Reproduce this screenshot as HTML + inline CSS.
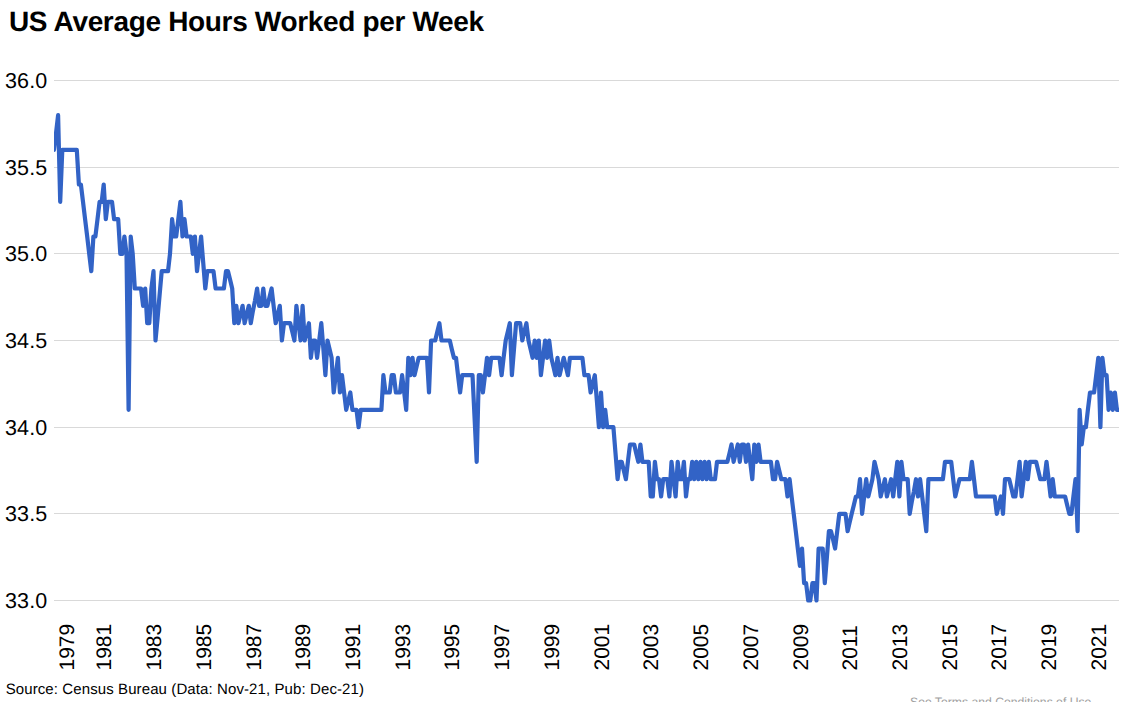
<!DOCTYPE html>
<html><head><meta charset="utf-8">
<style>
html,body{margin:0;padding:0;background:#fff;width:1133px;height:702px;overflow:hidden}
svg{display:block}
text{font-family:"Liberation Sans",sans-serif;fill:#000;text-rendering:geometricPrecision}
.t{font-weight:bold;font-size:28px;letter-spacing:-0.33px}
.yl{font-size:21.5px;letter-spacing:0.1px}
.xl{font-size:21px}
.src{font-size:15px;fill:#000;letter-spacing:0.1px}
.tc{font-size:12.2px;fill:#a0a0a0}
</style></head><body>
<svg width="1133" height="702" viewBox="0 0 1133 702">
<defs><clipPath id="pc"><rect x="54" y="0" width="1065" height="702"/></clipPath></defs>
<rect width="1133" height="702" fill="#fff"/>
<text x="8.9" y="31.3" class="t">US Average Hours Worked per Week</text>
<rect x="54" y="80" width="1065" height="1" fill="#d9d9d9"/>
<text x="47.3" y="80.5" class="yl" text-anchor="end" dominant-baseline="central">36.0</text>
<rect x="54" y="167" width="1065" height="1" fill="#d9d9d9"/>
<text x="47.3" y="167.5" class="yl" text-anchor="end" dominant-baseline="central">35.5</text>
<rect x="54" y="253" width="1065" height="1" fill="#d9d9d9"/>
<text x="47.3" y="253.5" class="yl" text-anchor="end" dominant-baseline="central">35.0</text>
<rect x="54" y="340" width="1065" height="1" fill="#d9d9d9"/>
<text x="47.3" y="340.5" class="yl" text-anchor="end" dominant-baseline="central">34.5</text>
<rect x="54" y="427" width="1065" height="1" fill="#d9d9d9"/>
<text x="47.3" y="427.5" class="yl" text-anchor="end" dominant-baseline="central">34.0</text>
<rect x="54" y="513" width="1065" height="1" fill="#d9d9d9"/>
<text x="47.3" y="513.5" class="yl" text-anchor="end" dominant-baseline="central">33.5</text>
<rect x="54" y="600" width="1065" height="1" fill="#d9d9d9"/>
<text x="47.3" y="600.5" class="yl" text-anchor="end" dominant-baseline="central">33.0</text>

<polyline points="54.0,149.8 56.1,132.5 58.1,115.2 60.2,201.8 62.3,149.8 64.4,149.8 66.4,149.8 68.5,149.8 70.6,149.8 72.6,149.8 74.7,149.8 76.8,149.8 78.9,184.5 80.9,184.5 83.0,201.8 85.1,219.2 87.2,236.5 89.2,253.8 91.3,271.2 93.4,236.5 95.4,236.5 97.5,219.2 99.6,201.8 101.7,201.8 103.7,184.5 105.8,219.2 107.9,201.8 109.9,201.8 112.0,201.8 114.1,219.2 116.2,219.2 118.2,219.2 120.3,253.8 122.4,253.8 124.4,236.5 126.5,253.8 128.6,409.8 130.7,236.5 132.7,253.8 134.8,288.5 136.9,288.5 139.0,288.5 141.0,288.5 143.1,305.8 145.2,288.5 147.2,323.2 149.3,323.2 151.4,288.5 153.5,271.2 155.5,340.5 157.6,318.0 159.7,293.7 161.7,271.2 163.8,271.2 165.9,271.2 168.0,271.2 170.0,253.8 172.1,219.2 174.2,236.5 176.2,236.5 178.3,219.2 180.4,201.8 182.5,236.5 184.5,219.2 186.6,236.5 188.7,236.5 190.8,236.5 192.8,253.8 194.9,236.5 197.0,271.2 199.0,253.8 201.1,236.5 203.2,262.5 205.3,288.5 207.3,271.2 209.4,271.2 211.5,271.2 213.5,271.2 215.6,288.5 217.7,288.5 219.8,288.5 221.8,288.5 223.9,288.5 226.0,271.2 228.0,271.2 230.1,279.8 232.2,288.5 234.3,323.2 236.3,305.8 238.4,323.2 240.5,314.5 242.6,305.8 244.6,323.2 246.7,314.5 248.8,305.8 250.8,323.2 252.9,311.0 255.0,300.6 257.1,288.5 259.1,305.8 261.2,305.8 263.3,288.5 265.3,305.8 267.4,305.8 269.5,297.2 271.6,288.5 273.6,305.8 275.7,323.2 277.8,314.5 279.8,305.8 281.9,340.5 284.0,323.2 286.1,323.2 288.1,323.2 290.2,323.2 292.3,331.8 294.4,340.5 296.4,305.8 298.5,323.2 300.6,340.5 302.6,305.8 304.7,340.5 306.8,331.8 308.9,323.2 310.9,357.8 313.0,340.5 315.1,340.5 317.1,357.8 319.2,340.5 321.3,323.2 323.4,349.2 325.4,375.2 327.5,340.5 329.6,349.2 331.6,357.8 333.7,392.5 335.8,375.2 337.9,357.8 339.9,392.5 342.0,375.2 344.1,392.5 346.2,409.8 348.2,401.2 350.3,392.5 352.4,409.8 354.4,409.8 356.5,409.8 358.6,427.2 360.7,409.8 362.7,409.8 364.8,409.8 366.9,409.8 368.9,409.8 371.0,409.8 373.1,409.8 375.2,409.8 377.2,409.8 379.3,409.8 381.4,409.8 383.4,375.2 385.5,392.5 387.6,392.5 389.7,392.5 391.7,375.2 393.8,375.2 395.9,392.5 398.0,392.5 400.0,392.5 402.1,375.2 404.2,392.5 406.2,409.8 408.3,357.8 410.4,375.2 412.5,357.8 414.5,375.2 416.6,366.5 418.7,357.8 420.7,357.8 422.8,357.8 424.9,357.8 427.0,357.8 429.0,392.5 431.1,340.5 433.2,340.5 435.2,340.5 437.3,331.8 439.4,323.2 441.5,340.5 443.5,340.5 445.6,340.5 447.7,340.5 449.8,340.5 451.8,349.2 453.9,357.8 456.0,357.8 458.0,375.2 460.1,392.5 462.2,375.2 464.3,375.2 466.3,375.2 468.4,375.2 470.5,375.2 472.5,375.2 474.6,418.5 476.7,461.8 478.8,375.2 480.8,375.2 482.9,392.5 485.0,375.2 487.0,357.8 489.1,375.2 491.2,357.8 493.3,357.8 495.3,357.8 497.4,357.8 499.5,357.8 501.6,375.2 503.6,357.8 505.7,340.5 507.8,331.8 509.8,323.2 511.9,375.2 514.0,349.2 516.1,323.2 518.1,323.2 520.2,323.2 522.3,340.5 524.3,331.8 526.4,323.2 528.5,340.5 530.6,349.2 532.6,357.8 534.7,340.5 536.8,357.8 538.8,340.5 540.9,375.2 543.0,357.8 545.1,340.5 547.1,357.8 549.2,340.5 551.3,357.8 553.4,366.5 555.4,375.2 557.5,357.8 559.6,375.2 561.6,366.5 563.7,357.8 565.8,366.5 567.9,375.2 569.9,357.8 572.0,357.8 574.1,357.8 576.1,357.8 578.2,357.8 580.3,357.8 582.4,357.8 584.4,375.2 586.5,375.2 588.6,375.2 590.6,392.5 592.7,383.8 594.8,375.2 596.9,401.2 598.9,427.2 601.0,392.5 603.1,427.2 605.2,409.8 607.2,427.2 609.3,427.2 611.4,427.2 613.4,427.2 615.5,453.2 617.6,479.2 619.7,461.8 621.7,461.8 623.8,470.5 625.9,479.2 627.9,461.8 630.0,444.5 632.1,444.5 634.2,444.5 636.2,453.2 638.3,461.8 640.4,444.5 642.4,461.8 644.5,461.8 646.6,461.8 648.7,461.8 650.7,496.5 652.8,496.5 654.9,461.8 657.0,479.2 659.0,479.2 661.1,496.5 663.2,479.2 665.2,479.2 667.3,479.2 669.4,496.5 671.5,461.8 673.5,479.2 675.6,496.5 677.7,461.8 679.7,479.2 681.8,479.2 683.9,461.8 686.0,496.5 688.0,479.2 690.1,479.2 692.2,461.8 694.2,479.2 696.3,461.8 698.4,479.2 700.5,461.8 702.5,479.2 704.6,461.8 706.7,479.2 708.8,461.8 710.8,479.2 712.9,479.2 715.0,479.2 717.0,461.8 719.1,461.8 721.2,461.8 723.3,461.8 725.3,461.8 727.4,461.8 729.5,453.2 731.5,444.5 733.6,461.8 735.7,453.2 737.8,444.5 739.8,461.8 741.9,444.5 744.0,444.5 746.0,461.8 748.1,444.5 750.2,461.8 752.3,479.2 754.3,444.5 756.4,461.8 758.5,444.5 760.6,461.8 762.6,461.8 764.7,461.8 766.8,461.8 768.8,461.8 770.9,461.8 773.0,479.2 775.1,479.2 777.1,461.8 779.2,470.5 781.3,479.2 783.3,479.2 785.4,479.2 787.5,496.5 789.6,479.2 791.6,496.5 793.7,513.8 795.8,531.2 797.8,548.5 799.9,565.8 802.0,548.5 804.1,583.2 806.1,583.2 808.2,600.5 810.3,600.5 812.4,583.2 814.4,583.2 816.5,600.5 818.6,548.5 820.6,548.5 822.7,548.5 824.8,583.2 826.9,557.2 828.9,531.2 831.0,531.2 833.1,539.8 835.1,548.5 837.2,531.2 839.3,513.8 841.4,513.8 843.4,513.8 845.5,513.8 847.6,531.2 849.6,522.5 851.7,513.8 853.8,505.2 855.9,496.5 857.9,496.5 860.0,479.2 862.1,513.8 864.2,496.5 866.2,479.2 868.3,496.5 870.4,487.8 872.4,479.2 874.5,461.8 876.6,470.5 878.7,479.2 880.7,496.5 882.8,487.8 884.9,479.2 886.9,496.5 889.0,487.8 891.1,479.2 893.2,496.5 895.2,479.2 897.3,461.8 899.4,496.5 901.4,461.8 903.5,479.2 905.6,479.2 907.7,479.2 909.7,513.8 911.8,501.7 913.9,491.3 916.0,479.2 918.0,496.5 920.1,479.2 922.2,496.5 924.2,513.8 926.3,531.2 928.4,479.2 930.5,479.2 932.5,479.2 934.6,479.2 936.7,479.2 938.7,479.2 940.8,479.2 942.9,479.2 945.0,461.8 947.0,461.8 949.1,461.8 951.2,461.8 953.2,479.2 955.3,496.5 957.4,487.8 959.5,479.2 961.5,479.2 963.6,479.2 965.7,479.2 967.8,479.2 969.8,479.2 971.9,461.8 974.0,479.2 976.0,496.5 978.1,496.5 980.2,496.5 982.3,496.5 984.3,496.5 986.4,496.5 988.5,496.5 990.5,496.5 992.6,496.5 994.7,496.5 996.8,513.8 998.8,505.2 1000.9,496.5 1003.0,513.8 1005.0,479.2 1007.1,479.2 1009.2,479.2 1011.3,487.8 1013.3,496.5 1015.4,496.5 1017.5,479.2 1019.6,461.8 1021.6,496.5 1023.7,479.2 1025.8,461.8 1027.8,479.2 1029.9,461.8 1032.0,461.8 1034.1,461.8 1036.1,461.8 1038.2,470.5 1040.3,479.2 1042.3,479.2 1044.4,479.2 1046.5,461.8 1048.6,479.2 1050.6,496.5 1052.7,479.2 1054.8,496.5 1056.8,496.5 1058.9,496.5 1061.0,496.5 1063.1,496.5 1065.1,496.5 1067.2,505.2 1069.3,513.8 1071.4,513.8 1073.4,496.5 1075.5,479.2 1077.6,531.2 1079.6,409.8 1081.7,444.5 1083.8,427.2 1085.9,427.2 1087.9,409.8 1090.0,392.5 1092.1,392.5 1094.1,392.5 1096.2,375.2 1098.3,357.8 1100.4,427.2 1102.4,357.8 1104.5,375.2 1106.6,375.2 1108.6,409.8 1110.7,392.5 1112.8,409.8 1114.9,392.5 1116.9,409.8 1119.0,409.8" fill="none" stroke="#3263c6" stroke-width="4.2" stroke-linejoin="round" stroke-linecap="round" clip-path="url(#pc)"/>
<text transform="translate(74.1,670.5) rotate(-90)" class="xl">1979</text>
<text transform="translate(111.3,670.5) rotate(-90)" class="xl">1981</text>
<text transform="translate(161.0,670.5) rotate(-90)" class="xl">1983</text>
<text transform="translate(210.7,670.5) rotate(-90)" class="xl">1985</text>
<text transform="translate(260.5,670.5) rotate(-90)" class="xl">1987</text>
<text transform="translate(310.2,670.5) rotate(-90)" class="xl">1989</text>
<text transform="translate(359.9,670.5) rotate(-90)" class="xl">1991</text>
<text transform="translate(409.7,670.5) rotate(-90)" class="xl">1993</text>
<text transform="translate(459.4,670.5) rotate(-90)" class="xl">1995</text>
<text transform="translate(509.1,670.5) rotate(-90)" class="xl">1997</text>
<text transform="translate(558.8,670.5) rotate(-90)" class="xl">1999</text>
<text transform="translate(608.6,670.5) rotate(-90)" class="xl">2001</text>
<text transform="translate(658.3,670.5) rotate(-90)" class="xl">2003</text>
<text transform="translate(708.0,670.5) rotate(-90)" class="xl">2005</text>
<text transform="translate(757.8,670.5) rotate(-90)" class="xl">2007</text>
<text transform="translate(807.5,670.5) rotate(-90)" class="xl">2009</text>
<text transform="translate(857.2,670.5) rotate(-90)" class="xl">2011</text>
<text transform="translate(906.9,670.5) rotate(-90)" class="xl">2013</text>
<text transform="translate(956.7,670.5) rotate(-90)" class="xl">2015</text>
<text transform="translate(1006.4,670.5) rotate(-90)" class="xl">2017</text>
<text transform="translate(1056.1,670.5) rotate(-90)" class="xl">2019</text>
<text transform="translate(1105.8,670.5) rotate(-90)" class="xl">2021</text>

<text x="5.7" y="693.5" class="src">Source: Census Bureau (Data: Nov-21, Pub: Dec-21)</text>
<text x="910" y="706" class="tc">See Terms and Conditions of Use</text>
</svg>
</body></html>
